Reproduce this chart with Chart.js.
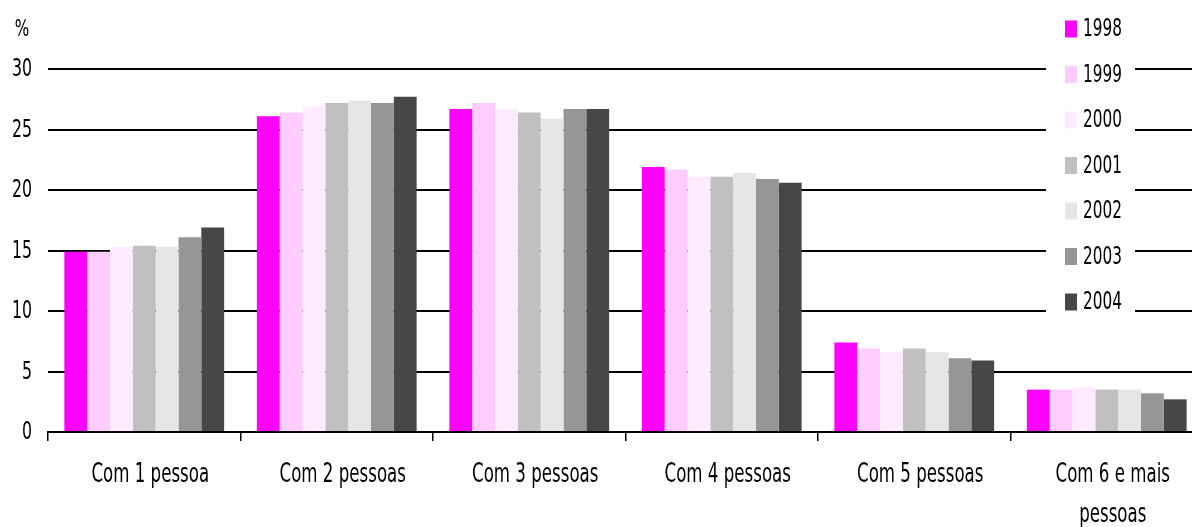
<!DOCTYPE html>
<html>
<head>
<meta charset="utf-8">
<style>
  html, body { margin: 0; padding: 0; background: #fff; overflow: hidden; }
  #wrap { position: relative; width: 1204px; height: 527px; }
</style>
<script src="https://cdn.jsdelivr.net/npm/chart.js@4/dist/chart.umd.min.js"></script>
</head>
<body>
<div id="wrap"><canvas id="c"></canvas></div>
<script>
// Household size categories (x axis)
const categories = [
  'Com 1 pessoa',
  'Com 2 pessoas',
  'Com 3 pessoas',
  'Com 4 pessoas',
  'Com 5 pessoas',
  ['Com 6 e mais', 'pessoas']
];

// Share of households (%) per year
const years = ['1998', '1999', '2000', '2001', '2002', '2003', '2004'];
const v1998 = [14.9, 26.1, 26.7, 21.9, 7.4, 3.5];
const v1999 = [14.9, 26.4, 27.2, 21.7, 6.9, 3.5];
const v2000 = [15.3, 26.9, 26.7, 21.1, 6.6, 3.7];
const v2001 = [15.4, 27.2, 26.4, 21.1, 6.9, 3.5];
const v2002 = [15.3, 27.4, 25.9, 21.4, 6.6, 3.5];
const v2003 = [16.1, 27.2, 26.7, 20.9, 6.1, 3.2];
const v2004 = [16.9, 27.7, 26.7, 20.6, 5.9, 2.7];

const yTicks = [0, 5, 10, 15, 20, 25, 30];

const seriesValues = [v1998, v1999, v2000, v2001, v2002, v2003, v2004];
const seriesColors = ['#ff00ff', '#ffccff', '#ffebff', '#c0c0c0', '#e6e6e6', '#969696', '#474747'];

const FONT = "'DejaVu Sans Condensed', 'Liberation Sans Narrow', sans-serif";

// Draws a line of text in a tall, narrow style (vertically stretched glyphs)
function tallText(ctx, text, x, y, size, stretch, align) {
  ctx.save();
  ctx.font = size + 'px ' + FONT;
  ctx.textAlign = align;
  ctx.textBaseline = 'middle';
  ctx.translate(x, y);
  ctx.scale(1, stretch);
  ctx.fillText(text, 0, 0);
  ctx.restore();
}

// Axis labels, unit label and the boxed legend inside the plot
const decorations = {
  id: 'decorations',
  afterDraw(chart) {
    const ctx = chart.ctx;
    const xs = chart.scales.x;
    const ys = chart.scales.y;
    ctx.save();
    ctx.fillStyle = '#000';

    // unit
    tallText(ctx, '%', 22, 30, 17, 1.3, 'center');

    // value axis labels
    ys.ticks.forEach(t => {
      tallText(ctx, String(t.value), 32, ys.getPixelForValue(t.value) + 1, 17.5, 1.42, 'right');
    });

    // category labels
    chart.data.labels.forEach((lab, i) => {
      const lines = Array.isArray(lab) ? lab : [lab];
      const cx = xs.getPixelForValue(i) + 6;
      lines.forEach((ln, j) => {
        tallText(ctx, ln, cx, 475 + j * 40, 18.5, 1.45, 'center');
      });
    });

    // legend panel
    ctx.fillStyle = '#fff';
    ctx.fillRect(1046, 8, 89, 314);
    chart.data.datasets.forEach((ds, i) => {
      const cy = 29 + i * 45.5;
      ctx.fillStyle = ds.backgroundColor;
      ctx.fillRect(1065, cy - 8.5, 12, 17);
      ctx.fillStyle = '#000';
      tallText(ctx, ds.label, 1083, cy + 1, 17, 1.42, 'left');
    });
    ctx.restore();
  }
};

new Chart(document.getElementById('c'), {
  type: 'bar',
  data: {
    labels: categories,
    datasets: years.map((y, i) => ({
      label: y,
      data: seriesValues[i],
      backgroundColor: seriesColors[i],
      borderWidth: 0,
      categoryPercentage: 0.83,
      barPercentage: 1.0
    }))
  },
  options: {
    responsive: true,
    maintainAspectRatio: false,
    animation: false,
    devicePixelRatio: 1,
    layout: { padding: { top: 69, right: 1, left: 0, bottom: 0 } },
    plugins: {
      legend: { display: false },
      tooltip: { enabled: false }
    },
    scales: {
      x: {
        grid: {
          display: true,
          drawOnChartArea: false,
          drawTicks: true,
          tickLength: 9,
          color: '#000',
          lineWidth: 1.5
        },
        border: { display: true, color: '#000', width: 2 },
        ticks: { display: false, autoSkip: false },
        afterFit(scale) { scale.height = 95; }
      },
      y: {
        min: 0,
        max: 30,
        afterBuildTicks(scale) { scale.ticks = yTicks.map(v => ({ value: v })); },
        grid: {
          color: '#000',
          lineWidth: 2,
          drawTicks: false
        },
        border: { display: false },
        ticks: { display: false },
        afterFit(scale) { scale.width = 48; }
      }
    }
  },
  plugins: [decorations]
});
</script>
</body>
</html>
